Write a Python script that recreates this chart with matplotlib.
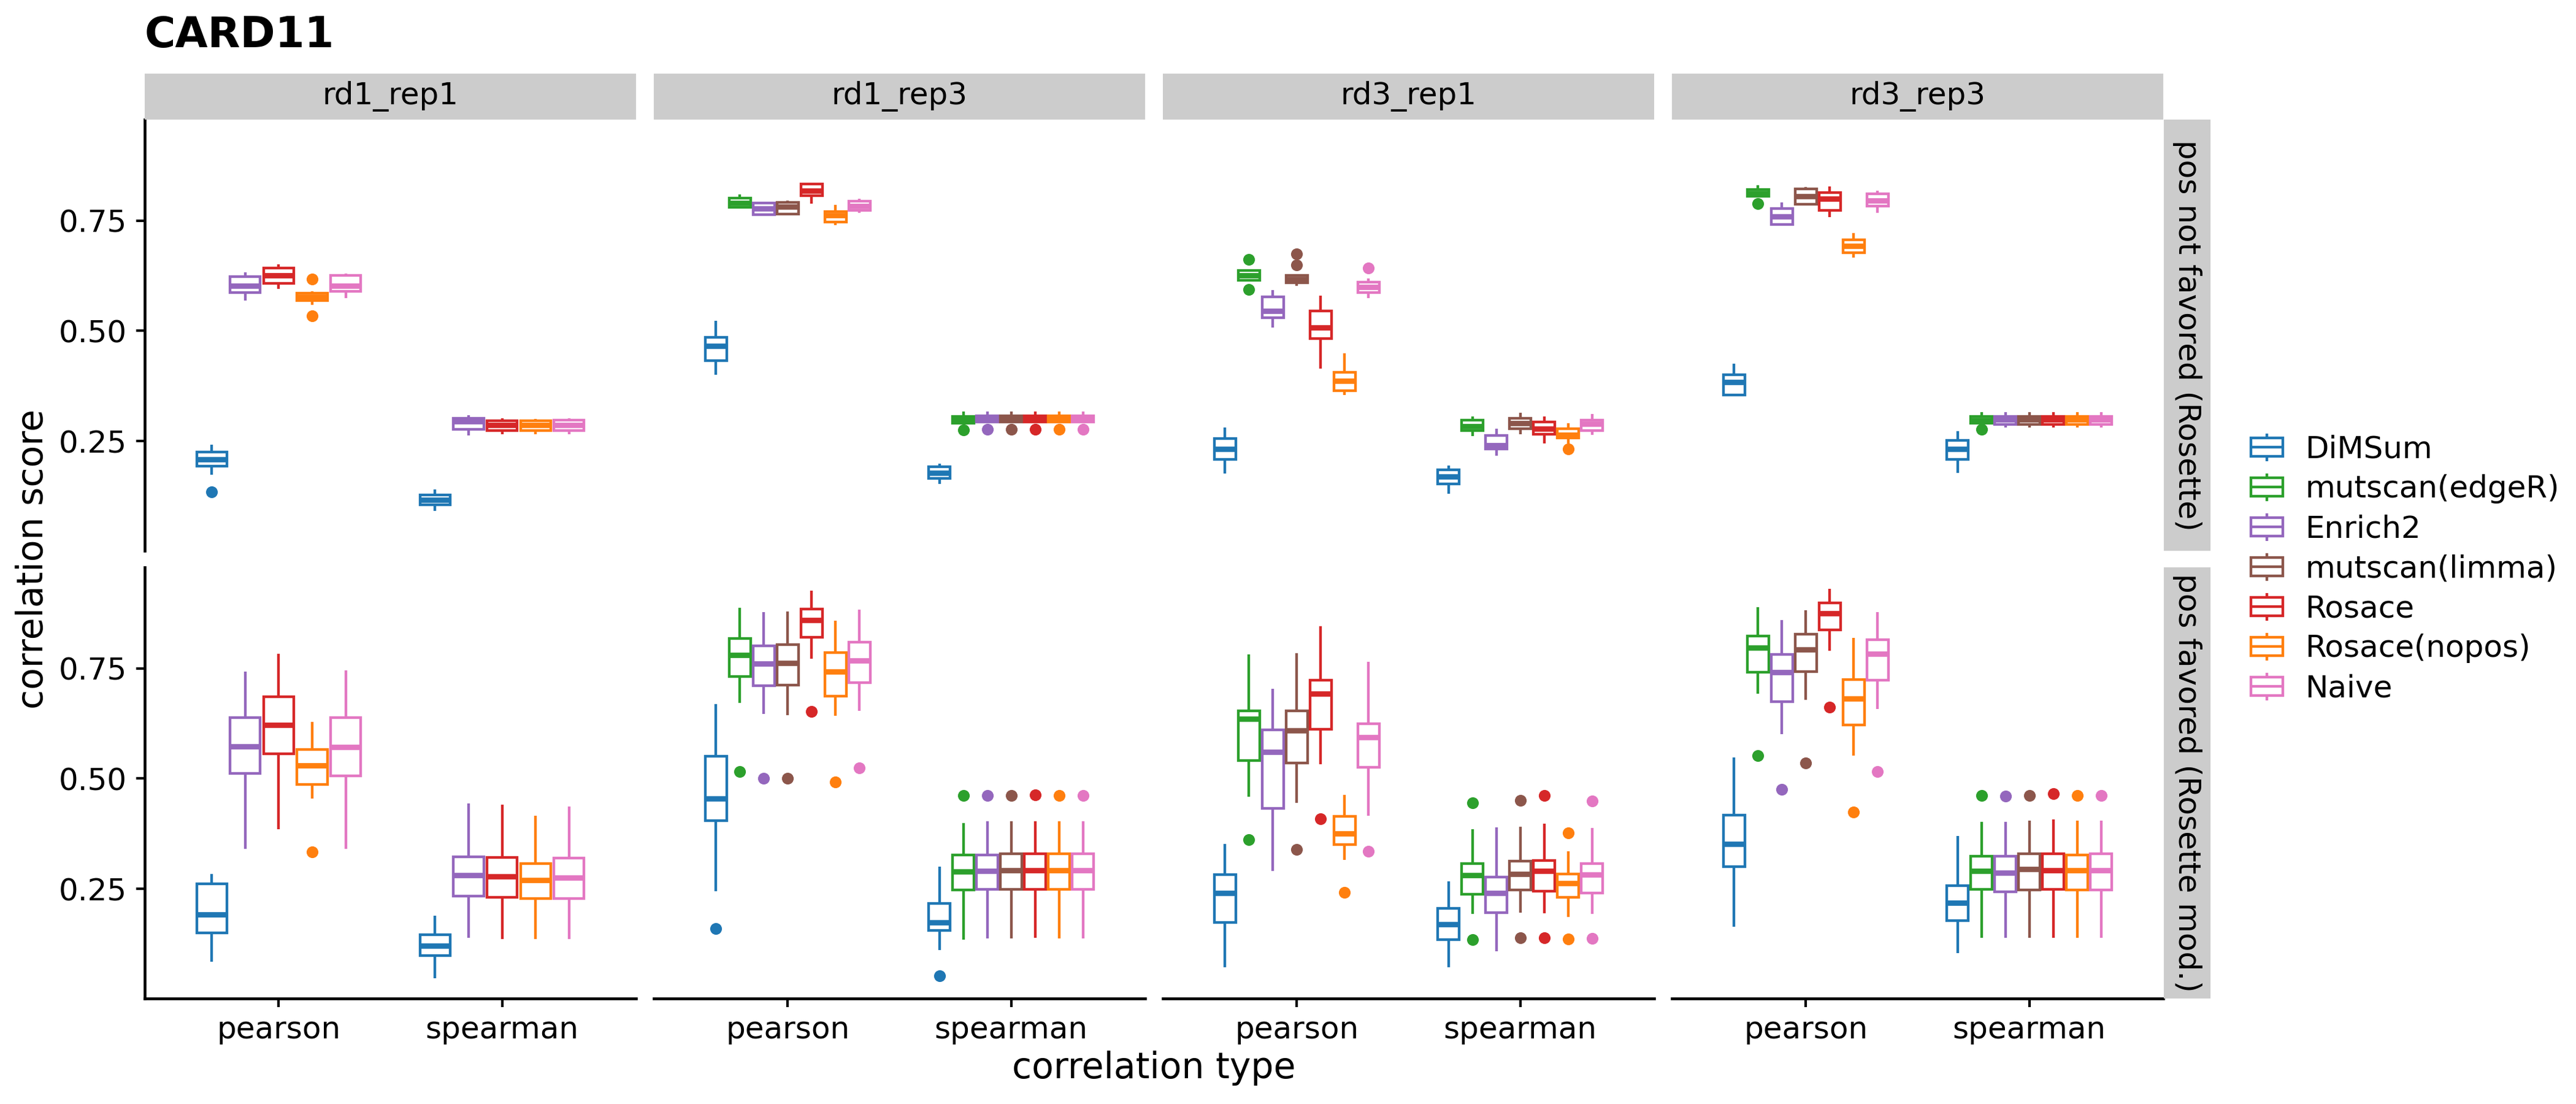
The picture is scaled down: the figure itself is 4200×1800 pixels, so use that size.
import matplotlib
matplotlib.use("Agg")
import matplotlib.pyplot as plt
from matplotlib.legend_handler import HandlerBase
from matplotlib.patches import Rectangle
from matplotlib.lines import Line2D

plt.rcParams['font.family'] = ['DejaVu Sans']

# ---------------- data ----------------
METHODS = ['DiMSum', 'mutscan(edgeR)', 'Enrich2', 'mutscan(limma)', 'Rosace', 'Rosace(nopos)', 'Naive']
COLORS = ['#1f77b4', '#2ca02c', '#9467bd', '#8c564b', '#d62728', '#ff7f0e', '#e377c2']
REPLICATES = ['rd1_rep1', 'rd1_rep3', 'rd3_rep1', 'rd3_rep3']
SETTINGS = ['pos not favored (Rosette)', 'pos favored (Rosette mod.)']
CORR_TYPES = ['pearson', 'spearman']
Y_TICKS = [0.25, 0.50, 0.75]
Y_TICK_LABELS = ['0.25', '0.50', '0.75']

# each entry: (whisker low, q1, median, q3, whisker high, [outliers]); None = method absent
rd1_rep1_notfav_pearson = [
    (0.174, 0.193, 0.208, 0.225, 0.241, [0.135]),
    None,
    (0.569, 0.587, 0.602, 0.623, 0.632, []),
    None,
    (0.595, 0.608, 0.625, 0.642, 0.650, []),
    (0.559, 0.569, 0.577, 0.585, 0.590, [0.617, 0.534]),
    (0.574, 0.590, 0.602, 0.625, 0.630, []),
]
rd1_rep1_notfav_spearman = [
    (0.091, 0.106, 0.117, 0.128, 0.140, []),
    None,
    (0.263, 0.276, 0.295, 0.301, 0.308, []),
    None,
    (0.266, 0.273, 0.286, 0.296, 0.301, []),
    (0.265, 0.273, 0.286, 0.296, 0.300, []),
    (0.265, 0.273, 0.286, 0.297, 0.301, []),
]
rd1_rep1_fav_pearson = [
    (0.085, 0.150, 0.191, 0.261, 0.283, []),
    None,
    (0.341, 0.511, 0.573, 0.638, 0.743, []),
    None,
    (0.385, 0.556, 0.622, 0.686, 0.783, []),
    (0.454, 0.486, 0.529, 0.566, 0.628, [0.333]),
    (0.341, 0.506, 0.572, 0.638, 0.745, []),
]
rd1_rep1_fav_spearman = [
    (0.047, 0.099, 0.120, 0.145, 0.189, []),
    None,
    (0.139, 0.233, 0.280, 0.322, 0.443, []),
    None,
    (0.136, 0.230, 0.278, 0.321, 0.440, []),
    (0.136, 0.228, 0.270, 0.307, 0.415, []),
    (0.136, 0.228, 0.275, 0.319, 0.437, []),
]

rd1_rep3_notfav_pearson = [
    (0.400, 0.432, 0.465, 0.485, 0.523, []),
    (0.778, 0.780, 0.790, 0.801, 0.809, []),
    (0.761, 0.764, 0.777, 0.790, 0.793, []),
    (0.763, 0.765, 0.781, 0.791, 0.796, []),
    (0.789, 0.807, 0.817, 0.833, 0.835, []),
    (0.740, 0.746, 0.762, 0.771, 0.786, []),
    (0.768, 0.773, 0.783, 0.794, 0.800, []),
]
rd1_rep3_notfav_spearman = [
    (0.153, 0.165, 0.178, 0.192, 0.199, []),
    (0.290, 0.291, 0.299, 0.306, 0.317, [0.275]),
    (0.293, 0.293, 0.300, 0.307, 0.317, [0.277]),
    (0.293, 0.293, 0.300, 0.307, 0.317, [0.277]),
    (0.293, 0.293, 0.300, 0.307, 0.317, [0.277]),
    (0.293, 0.293, 0.300, 0.307, 0.317, [0.277]),
    (0.293, 0.293, 0.300, 0.307, 0.317, [0.277]),
]
rd1_rep3_fav_pearson = [
    (0.245, 0.404, 0.454, 0.550, 0.669, [0.160]),
    (0.671, 0.732, 0.780, 0.817, 0.887, [0.516]),
    (0.646, 0.710, 0.761, 0.801, 0.878, [0.500]),
    (0.644, 0.712, 0.762, 0.804, 0.879, [0.500]),
    (0.772, 0.820, 0.860, 0.884, 0.926, [0.652]),
    (0.642, 0.687, 0.743, 0.785, 0.858, [0.492]),
    (0.653, 0.718, 0.768, 0.809, 0.883, [0.524]),
]
rd1_rep3_fav_spearman = [
    (0.111, 0.156, 0.173, 0.217, 0.300, [0.053]),
    (0.134, 0.247, 0.289, 0.327, 0.399, [0.462]),
    (0.138, 0.248, 0.290, 0.327, 0.403, [0.462]),
    (0.138, 0.248, 0.292, 0.329, 0.403, [0.462]),
    (0.139, 0.249, 0.292, 0.329, 0.403, [0.463]),
    (0.138, 0.248, 0.292, 0.329, 0.403, [0.462]),
    (0.138, 0.248, 0.292, 0.329, 0.403, [0.462]),
]

rd3_rep1_notfav_pearson = [
    (0.176, 0.208, 0.232, 0.256, 0.281, []),
    (0.615, 0.615, 0.626, 0.637, 0.638, [0.662, 0.594]),
    (0.508, 0.530, 0.545, 0.577, 0.592, []),
    (0.602, 0.609, 0.617, 0.625, 0.625, [0.674, 0.649]),
    (0.414, 0.483, 0.508, 0.545, 0.580, []),
    (0.355, 0.364, 0.387, 0.406, 0.449, []),
    (0.574, 0.586, 0.599, 0.610, 0.619, [0.643]),
]
rd3_rep1_notfav_spearman = [
    (0.130, 0.152, 0.170, 0.184, 0.195, []),
    (0.261, 0.274, 0.284, 0.298, 0.305, []),
    (0.216, 0.232, 0.240, 0.262, 0.278, []),
    (0.266, 0.278, 0.291, 0.301, 0.314, []),
    (0.245, 0.266, 0.278, 0.293, 0.305, []),
    (0.245, 0.257, 0.264, 0.278, 0.291, [0.232]),
    (0.264, 0.274, 0.289, 0.297, 0.311, []),
]
rd3_rep1_fav_pearson = [
    (0.072, 0.174, 0.240, 0.282, 0.351, []),
    (0.459, 0.541, 0.636, 0.653, 0.782, [0.361]),
    (0.290, 0.432, 0.560, 0.610, 0.704, []),
    (0.445, 0.535, 0.609, 0.653, 0.784, [0.339]),
    (0.532, 0.612, 0.692, 0.723, 0.846, [0.408]),
    (0.315, 0.350, 0.375, 0.414, 0.463, [0.241]),
    (0.416, 0.525, 0.593, 0.624, 0.765, [0.335]),
]
rd3_rep1_fav_spearman = [
    (0.072, 0.134, 0.169, 0.205, 0.267, []),
    (0.193, 0.237, 0.280, 0.307, 0.385, [0.445, 0.134]),
    (0.108, 0.196, 0.240, 0.276, 0.389, []),
    (0.196, 0.247, 0.284, 0.313, 0.391, [0.450, 0.139]),
    (0.194, 0.245, 0.290, 0.314, 0.398, [0.462, 0.139]),
    (0.186, 0.230, 0.263, 0.284, 0.335, [0.377, 0.136]),
    (0.193, 0.240, 0.282, 0.307, 0.388, [0.449, 0.138]),
]

rd3_rep3_notfav_pearson = [
    (0.354, 0.354, 0.384, 0.400, 0.425, []),
    (0.805, 0.805, 0.812, 0.821, 0.830, [0.789]),
    (0.741, 0.741, 0.759, 0.777, 0.791, []),
    (0.787, 0.787, 0.805, 0.822, 0.826, []),
    (0.758, 0.773, 0.800, 0.813, 0.827, []),
    (0.666, 0.677, 0.693, 0.706, 0.722, []),
    (0.768, 0.783, 0.795, 0.810, 0.817, []),
]
rd3_rep3_notfav_spearman = [
    (0.178, 0.208, 0.232, 0.252, 0.272, []),
    (0.291, 0.291, 0.298, 0.306, 0.315, [0.277]),
    (0.280, 0.287, 0.299, 0.306, 0.316, []),
    (0.280, 0.287, 0.299, 0.306, 0.316, []),
    (0.280, 0.287, 0.299, 0.306, 0.316, []),
    (0.280, 0.287, 0.299, 0.306, 0.316, []),
    (0.280, 0.287, 0.299, 0.306, 0.316, []),
]
rd3_rep3_fav_pearson = [
    (0.164, 0.300, 0.352, 0.417, 0.548, []),
    (0.692, 0.741, 0.797, 0.823, 0.889, [0.552]),
    (0.600, 0.674, 0.741, 0.782, 0.860, [0.476]),
    (0.679, 0.743, 0.792, 0.828, 0.882, [0.535]),
    (0.790, 0.837, 0.874, 0.898, 0.931, [0.662]),
    (0.552, 0.622, 0.681, 0.725, 0.819, [0.424]),
    (0.657, 0.723, 0.783, 0.815, 0.878, [0.516]),
]
rd3_rep3_fav_spearman = [
    (0.104, 0.178, 0.218, 0.257, 0.369, []),
    (0.139, 0.248, 0.290, 0.324, 0.401, [0.462]),
    (0.139, 0.243, 0.286, 0.324, 0.401, [0.460]),
    (0.139, 0.247, 0.294, 0.329, 0.405, [0.462]),
    (0.139, 0.249, 0.292, 0.330, 0.407, [0.465]),
    (0.139, 0.247, 0.292, 0.327, 0.405, [0.462]),
    (0.139, 0.247, 0.292, 0.329, 0.405, [0.462]),
]

DATA = {
    (0, 0): (rd1_rep1_notfav_pearson, rd1_rep1_notfav_spearman),
    (0, 1): (rd1_rep3_notfav_pearson, rd1_rep3_notfav_spearman),
    (0, 2): (rd3_rep1_notfav_pearson, rd3_rep1_notfav_spearman),
    (0, 3): (rd3_rep3_notfav_pearson, rd3_rep3_notfav_spearman),
    (1, 0): (rd1_rep1_fav_pearson, rd1_rep1_fav_spearman),
    (1, 1): (rd1_rep3_fav_pearson, rd1_rep3_fav_spearman),
    (1, 2): (rd3_rep1_fav_pearson, rd3_rep1_fav_spearman),
    (1, 3): (rd3_rep3_fav_pearson, rd3_rep3_fav_spearman),
}

# ---------------- layout ----------------
W, H = 4200, 1800
fig = plt.figure(figsize=(14, 6), dpi=300)

col_left = [236, 1066, 1896, 2726]
col_w = 801
row_top = [195, 925]
row_h = 703
STRIP_H = 75
STRIP_W = 76
STRIP_COLOR = '#cccccc'
TXT = '#000000'

LW = 1.05
MED_LW = 2.1

def fx(px):
    return px / W

def fy(py):
    return 1 - py / H

axes = {}
for r in range(2):
    for c in range(4):
        ax = fig.add_axes([fx(col_left[c]), fy(row_top[r] + row_h), col_w / W, row_h / H])
        axes[(r, c)] = ax
        for xi, stats_list in enumerate(DATA[(r, c)]):
            present = [i for i, s in enumerate(stats_list) if s is not None]
            n = len(present)
            slot = 0.75 / n
            for k, i in enumerate(present):
                lo, q1, med, q3, hi, outs = stats_list[i]
                col = COLORS[i]
                pos = xi - 0.375 + slot * (k + 0.5)
                st = [dict(whislo=lo, q1=q1, med=med, q3=q3, whishi=hi, fliers=outs, label=METHODS[i])]
                ax.bxp(st, positions=[pos], widths=slot * 0.9, patch_artist=True,
                       showcaps=False, manage_ticks=False,
                       boxprops=dict(facecolor='white', edgecolor=col, linewidth=LW),
                       medianprops=dict(color=col, linewidth=MED_LW, solid_capstyle='butt'),
                       whiskerprops=dict(color=col, linewidth=LW, solid_capstyle='butt'),
                       flierprops=dict(marker='o', markerfacecolor=col, markeredgecolor='none',
                                       markersize=4.6))
        ax.set_xlim(-0.6, 1.6)
        ax.set_ylim(0.001, 0.979)
        ax.set_xticks([0, 1])
        ax.set_xticklabels(CORR_TYPES)
        ax.set_yticks(Y_TICKS)
        ax.set_yticklabels(Y_TICK_LABELS)
        for s in ['top', 'right']:
            ax.spines[s].set_visible(False)
        ax.spines['left'].set_visible(c == 0)
        ax.spines['bottom'].set_visible(r == 1)
        for s in ['left', 'bottom']:
            ax.spines[s].set_linewidth(1.1)
            ax.spines[s].set_color('black')
        ax.tick_params(axis='y', left=(c == 0), labelleft=(c == 0), length=3.4, width=1.0,
                       labelsize=12, pad=3.5, colors=TXT)
        ax.tick_params(axis='x', bottom=(r == 1), labelbottom=(r == 1), length=3.4, width=1.0,
                       labelsize=12, pad=3, colors=TXT)
        ax.patch.set_alpha(0)

# top strips
for c, rep in enumerate(REPLICATES):
    sax = fig.add_axes([fx(col_left[c]), fy(row_top[0]), col_w / W, STRIP_H / H])
    sax.set_facecolor(STRIP_COLOR)
    sax.set_xticks([]); sax.set_yticks([])
    for s in sax.spines.values():
        s.set_visible(False)
    sax.text(0.5, 0.5, rep, ha='center', va='center', fontsize=12, color=TXT,
             transform=sax.transAxes)

# right strips
for r, setting in enumerate(SETTINGS):
    sax = fig.add_axes([fx(col_left[3] + col_w + 1), fy(row_top[r] + row_h), STRIP_W / W, row_h / H])
    sax.set_facecolor(STRIP_COLOR)
    sax.set_xticks([]); sax.set_yticks([])
    for s in sax.spines.values():
        s.set_visible(False)
    sax.text(0.5, 0.5, setting, ha='center', va='center', fontsize=12, color=TXT,
             rotation=-90, transform=sax.transAxes)

# titles
fig.text(fx(236), fy(77), 'CARD11', fontsize=16.5, fontweight='bold', ha='left', va='baseline',
         color=TXT)
fig.text(fx(54), fy((row_top[0] + row_top[1] + row_h) / 2), 'correlation score', rotation=90,
         ha='center', va='center', fontsize=14, color=TXT)
fig.text(fx((col_left[0] + col_left[3] + col_w) / 2), fy(1741), 'correlation type',
         ha='center', va='center', fontsize=14, color=TXT)


# legend
class BoxKeyHandler(HandlerBase):
    def create_artists(self, legend, orig_handle, xdescent, ydescent, width, height,
                       fontsize, trans):
        col = orig_handle.get_edgecolor()
        x0, y0 = -xdescent, -ydescent
        bw = width * 0.71
        bx = x0 + (width - bw) / 2
        bh = height * 0.66
        by = y0 + (height - bh) / 2
        cx = x0 + width / 2
        wl1 = Line2D([cx, cx], [y0, by], color=col, lw=LW, solid_capstyle='butt')
        wl2 = Line2D([cx, cx], [by + bh, y0 + height], color=col, lw=LW, solid_capstyle='butt')
        rect = Rectangle((bx, by), bw, bh, facecolor='white', edgecolor=col, lw=LW)
        med = Line2D([bx, bx + bw], [by + bh / 2, by + bh / 2], color=col, lw=LW,
                     solid_capstyle='butt')
        arts = [wl1, wl2, rect, med]
        for a in arts:
            a.set_transform(trans)
        return arts


handles = [Rectangle((0, 0), 1, 1, edgecolor=c, facecolor='white') for c in COLORS]
fig.legend(handles, METHODS, loc='center left', bbox_to_anchor=(fx(3660), fy(926.5)),
           frameon=False, borderpad=0, borderaxespad=0, fontsize=12,
           handlelength=1.44, handleheight=1.0, handletextpad=0.53, labelspacing=0.31,
           handler_map={Rectangle: BoxKeyHandler()})

fig.savefig('out.png', dpi=300, facecolor='white')
